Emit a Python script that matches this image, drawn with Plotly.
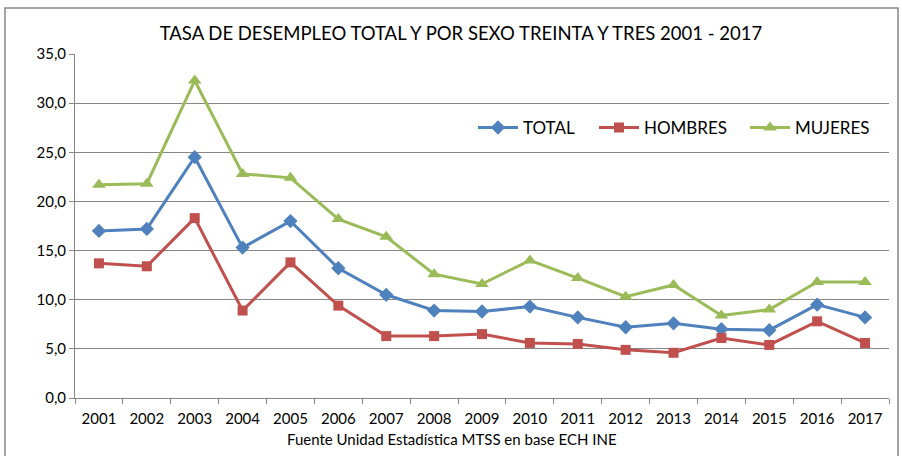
import plotly.graph_objects as go

years = [str(y) for y in range(2001, 2018)]
total = [17.0, 17.2, 24.5, 15.3, 18.0, 13.2, 10.5, 8.9, 8.8, 9.3, 8.2, 7.2, 7.6, 7.0, 6.9, 9.5, 8.2]
hombres = [13.7, 13.4, 18.3, 8.9, 13.8, 9.4, 6.3, 6.3, 6.5, 5.6, 5.5, 4.9, 4.6, 6.1, 5.4, 7.8, 5.6]
mujeres = [21.7, 21.8, 32.3, 22.8, 22.4, 18.2, 16.4, 12.6, 11.6, 14.0, 12.2, 10.3, 11.5, 8.4, 9.0, 11.8, 11.8]
y_ticks = [0, 5, 10, 15, 20, 25, 30, 35]

FONT = "Lato, sans-serif"

fig = go.Figure()
fig.add_trace(go.Scatter(x=years, y=total, name="TOTAL", mode="lines+markers",
                         line=dict(color="#4F81BD", width=3), legend="legend",
                         showlegend=True,
                         marker=dict(symbol="diamond", size=11, color="#4F81BD")))
fig.add_trace(go.Scatter(x=years, y=hombres, name="HOMBRES", mode="lines+markers",
                         line=dict(color="#C0504D", width=3), legend="legend2",
                         showlegend=True,
                         marker=dict(symbol="square", size=10, color="#C0504D")))
fig.add_trace(go.Scatter(x=years, y=mujeres, name="MUJERES", mode="lines+markers",
                         line=dict(color="#9BBB59", width=3), legend="legend3",
                         showlegend=True,
                         marker=dict(symbol="triangle-up", size=12, color="#9BBB59")))

def leg(xp):
    return dict(orientation="h", x=(xp - 75) / 814, y=0.785, xanchor="left", yanchor="middle",
                bgcolor="rgba(0,0,0,0)", font=dict(family=FONT, size=17), itemwidth=40,
                visible=True)

fig.update_layout(
    width=902, height=456,
    margin=dict(l=75, r=13, t=54, b=57.5),
    paper_bgcolor="white", plot_bgcolor="white",
    separators=",.",
    showlegend=True,
    font=dict(family=FONT, size=15, color="#000000"),
    title=dict(text="TASA DE DESEMPLEO TOTAL Y POR SEXO TREINTA Y TRES 2001 - 2017",
               x=461 / 902, xanchor="center", y=1 - 33.5 / 456, yanchor="middle",
               font=dict(family=FONT, size=18.5, color="#000000")),
    legend=leg(473),
    legend2=leg(594),
    legend3=leg(745),
    xaxis=dict(type="category", range=[-0.5, 16.5], autorange=False, showgrid=False,
               showline=True, linecolor="#868686",
               linewidth=1, ticks="outside", tickson="boundaries", ticklen=5,
               ticklabelstandoff=7,
               tickcolor="#868686", tickfont=dict(family=FONT, size=15)),
    yaxis=dict(range=[0, 35], tickvals=y_ticks, tickformat=".1f", showgrid=True,
               gridcolor="#868686", gridwidth=1, showline=True, linecolor="#868686",
               linewidth=1, ticks="outside", ticklen=5, tickcolor="#868686",
               zeroline=False, tickfont=dict(family=FONT, size=15)),
    shapes=[dict(type="rect", xref="paper", yref="paper",
                 x0=(5 - 75) / 814, x1=(898 - 75) / 814,
                 y0=(398.5 - 470) / 344.5, y1=(398.5 - 8) / 344.5,
                 line=dict(color="#868686", width=1.5), fillcolor="rgba(0,0,0,0)",
                 layer="below")],
    annotations=[dict(text="Fuente Unidad Estadística MTSS en base ECH INE",
                      xref="paper", yref="paper", x=(452 - 75) / 814,
                      y=(398.5 - 440) / 344.5, xanchor="center", yanchor="middle",
                      showarrow=False, font=dict(family=FONT, size=15, color="#000000"))],
)

fig.write_html("out.html", config={"displayModeBar": False},
               post_script="document.body.style.margin='0';document.body.style.overflow='hidden';")
